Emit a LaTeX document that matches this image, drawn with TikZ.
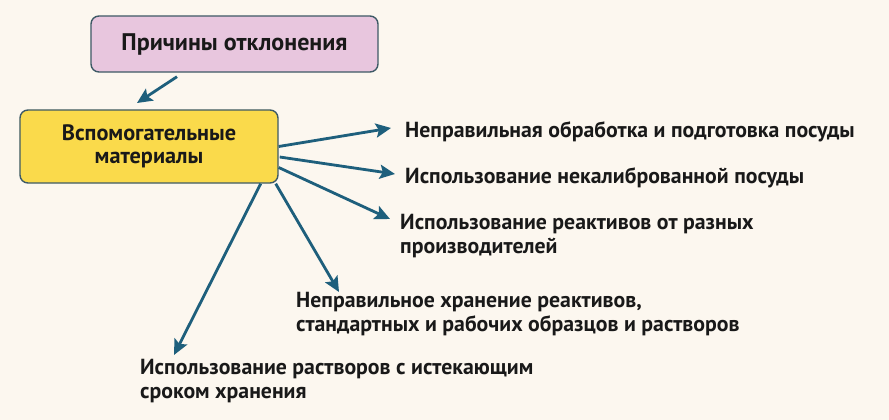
\documentclass[tikz,border=0pt]{standalone}
\usepackage{fontspec}
\setmainfont{PT Sans}
\usetikzlibrary{positioning, arrows.meta, calc}

\definecolor{bgcream}{HTML}{FCF7EF}
\definecolor{causepink}{HTML}{E8C6DE}
\definecolor{auxyellow}{HTML}{FADA4B}
\definecolor{boxedge}{HTML}{3E5A66}
\definecolor{arrteal}{HTML}{1E5F7C}

\begin{document}
\begin{tikzpicture}[
          x=0.03cm, y=-0.03cm,
          box/.style={draw=boxedge, line width=1.2pt, rounded corners=0.24cm,
            text=black!90, align=center},
          reason/.style={anchor=base west, inner sep=0pt, align=left,
            font=\bfseries\fontsize{18.6}{19.8}\selectfont, text=black!90},
          arr/.style={draw=arrteal, line width=2.4pt,
            -{Stealth[length=13pt,width=12pt,inset=2.5pt]}}
        ]
        \fill[bgcream] (0,0) rectangle (889,420);
        \useasboundingbox (0,0) rectangle (889,420);
        % boxes
        \node[box, fill=causepink, minimum width=8.61cm, minimum height=1.68cm,
          font=\bfseries\fontsize{20.5}{22}\selectfont] (cause) at (234.5,44) {Причины отклонения};
        \node[box, fill=auxyellow, minimum width=7.74cm, minimum height=2.19cm,
          font=\bfseries\fontsize{19}{19.6}\selectfont] (aux) at (149,146.5) {Вспомогательные\\материалы};
        % reasons
        \node[reason] (r1) at (405,137) {Неправильная обработка и подготовка посуды};
        \node[reason] (r2) at (405,183) {Использование некалиброванной посуды};
        \node[reason] (r3) at (400,253) {Использование реактивов от разных\\производителей};
        \node[reason] (r4) at (296,331) {Неправильное хранение реактивов,\\стандартных и рабочих образцов и растворов};
        \node[reason] (r5) at (140,398) {Использование растворов с истекающим\\сроком хранения};
        % arrow tips
        \coordinate (p0) at (137,103);
        \coordinate (p1) at (391,128);
        \coordinate (p2) at (395,174);
        \coordinate (p3) at (390,219);
        \coordinate (p4) at (339,292);
        \coordinate (p5) at (174,355);
        \draw[arr] ($(cause.south)+(-57.5,4)$) -- (p0);
        \draw[arr] (aux.east) -- (p1);
        \draw[arr] ($(aux.east)+(1,10.5)$) -- (p2);
        \draw[arr] ($(aux.east)+(0,21)$) -- (p3);
        \draw[arr] ($(aux.south east)+(-3,0)$) -- (p4);
        \draw[arr] ($(aux.south east)+(-18,0)$) -- (p5);
      \end{tikzpicture}
\end{document}
